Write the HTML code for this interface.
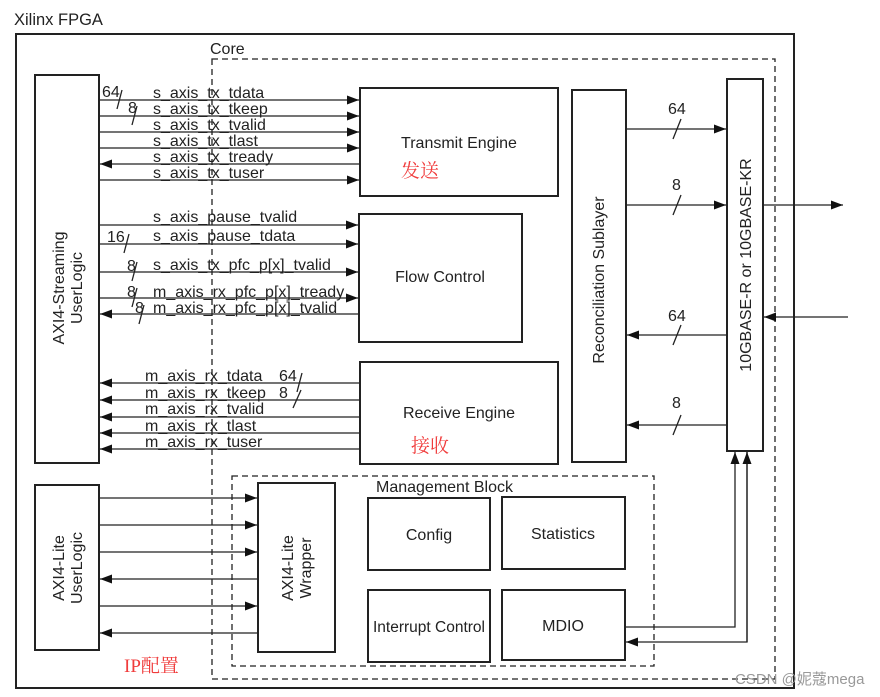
<!DOCTYPE html>
<html><head><meta charset="utf-8"><style>
body{margin:0;background:#fff}
svg{display:block}
text{font-family:"Liberation Sans",Arial,sans-serif;fill:#222}
.cn{font-family:"Liberation Serif","Noto Serif CJK SC","Noto Sans CJK SC",serif;fill:#f03c3c}
</style></head><body>
<svg width="880" height="697" viewBox="0 0 880 697" xmlns="http://www.w3.org/2000/svg">
<defs>
<marker id="a" viewBox="0 0 12 10" refX="12" refY="5" markerWidth="12" markerHeight="10" markerUnits="userSpaceOnUse" orient="auto"><path d="M0,0.5 L12,5 L0,9.5 z" fill="#111"/></marker>
</defs>
<g stroke="#222" fill="none">
<rect x="16" y="34" width="778" height="654" stroke-width="2"/>
<rect x="212" y="59" width="563" height="620" stroke-dasharray="6,4" stroke-width="1.3"/>
<rect x="232" y="476" width="422" height="190" stroke-dasharray="6,4" stroke-width="1.3"/>
<rect x="35" y="75" width="64" height="388" stroke-width="2"/>
<rect x="360" y="88" width="198" height="108" stroke-width="2"/>
<rect x="359" y="214" width="163" height="128" stroke-width="2"/>
<rect x="360" y="362" width="198" height="102" stroke-width="2"/>
<rect x="572" y="90" width="54" height="372" stroke-width="2"/>
<rect x="727" y="79" width="36" height="372" stroke-width="2"/>
<rect x="35" y="485" width="64" height="165" stroke-width="2"/>
<rect x="258" y="483" width="77" height="169" stroke-width="2"/>
<rect x="368" y="498" width="122" height="72" stroke-width="2"/>
<rect x="502" y="497" width="123" height="72" stroke-width="2"/>
<rect x="368" y="590" width="122" height="72" stroke-width="2"/>
<rect x="502" y="590" width="123" height="70" stroke-width="2"/>
</g>
<g stroke="#222" stroke-width="1.3" fill="none">
<line x1="99" y1="100" x2="359" y2="100" marker-end="url(#a)"/>
<line x1="99" y1="116" x2="359" y2="116" marker-end="url(#a)"/>
<line x1="99" y1="132" x2="359" y2="132" marker-end="url(#a)"/>
<line x1="99" y1="148" x2="359" y2="148" marker-end="url(#a)"/>
<line x1="360" y1="164" x2="100" y2="164" marker-end="url(#a)"/>
<line x1="99" y1="180" x2="359" y2="180" marker-end="url(#a)"/>
<line x1="99" y1="225" x2="358" y2="225" marker-end="url(#a)"/>
<line x1="99" y1="244" x2="358" y2="244" marker-end="url(#a)"/>
<line x1="99" y1="272" x2="358" y2="272" marker-end="url(#a)"/>
<line x1="99" y1="298" x2="358" y2="298" marker-end="url(#a)"/>
<line x1="359" y1="314" x2="100" y2="314" marker-end="url(#a)"/>
<line x1="360" y1="383" x2="100" y2="383" marker-end="url(#a)"/>
<line x1="360" y1="400" x2="100" y2="400" marker-end="url(#a)"/>
<line x1="360" y1="417" x2="100" y2="417" marker-end="url(#a)"/>
<line x1="360" y1="433" x2="100" y2="433" marker-end="url(#a)"/>
<line x1="360" y1="449" x2="100" y2="449" marker-end="url(#a)"/>
<line x1="122" y1="90" x2="117" y2="109"/>
<line x1="137" y1="106" x2="132" y2="125"/>
<line x1="129" y1="234" x2="124" y2="253"/>
<line x1="137" y1="262" x2="132" y2="281"/>
<line x1="137" y1="288" x2="132" y2="307"/>
<line x1="144" y1="305" x2="139" y2="324"/>
<line x1="302" y1="373" x2="297" y2="392"/>
<line x1="301" y1="390" x2="293" y2="408"/>
<line x1="626" y1="129" x2="726" y2="129" marker-end="url(#a)"/>
<line x1="626" y1="205" x2="726" y2="205" marker-end="url(#a)"/>
<line x1="727" y1="335" x2="627" y2="335" marker-end="url(#a)"/>
<line x1="727" y1="425" x2="627" y2="425" marker-end="url(#a)"/>
<line x1="681" y1="119" x2="673" y2="139"/>
<line x1="681" y1="195" x2="673" y2="215"/>
<line x1="681" y1="325" x2="673" y2="345"/>
<line x1="681" y1="415" x2="673" y2="435"/>
<line x1="763" y1="205" x2="843" y2="205" marker-end="url(#a)"/>
<line x1="848" y1="317" x2="764" y2="317" marker-end="url(#a)"/>
<polyline points="625,627 735,627 735,452" marker-end="url(#a)"/>
<polyline points="747,452 747,642 626,642" marker-end="url(#a)"/>
<line x1="747" y1="642" x2="747" y2="452" marker-end="url(#a)"/>
<line x1="99" y1="498" x2="257" y2="498" marker-end="url(#a)"/>
<line x1="99" y1="525" x2="257" y2="525" marker-end="url(#a)"/>
<line x1="99" y1="552" x2="257" y2="552" marker-end="url(#a)"/>
<line x1="258" y1="579" x2="100" y2="579" marker-end="url(#a)"/>
<line x1="99" y1="606" x2="257" y2="606" marker-end="url(#a)"/>
<line x1="258" y1="633" x2="100" y2="633" marker-end="url(#a)"/>
</g>
<g font-size="16">
<text x="14" y="25" font-size="16.5">Xilinx FPGA</text>
<text x="210" y="54">Core</text>
<text x="102" y="97">64</text>
<text x="128" y="113">8</text>
<text x="153" y="98">s_axis_tx_tdata</text>
<text x="153" y="114">s_axis_tx_tkeep</text>
<text x="153" y="130">s_axis_tx_tvalid</text>
<text x="153" y="146">s_axis_tx_tlast</text>
<text x="153" y="162">s_axis_tx_tready</text>
<text x="153" y="178">s_axis_tx_tuser</text>
<text x="153" y="222">s_axis_pause_tvalid</text>
<text x="107" y="242">16</text>
<text x="153" y="241">s_axis_pause_tdata</text>
<text x="127" y="271">8</text>
<text x="153" y="270">s_axis_tx_pfc_p[x]_tvalid</text>
<text x="127" y="297">8</text>
<text x="153" y="297">m_axis_rx_pfc_p[x]_tready</text>
<text x="135" y="313">8</text>
<text x="153" y="313">m_axis_rx_pfc_p[x]_tvalid</text>
<text x="145" y="381">m_axis_rx_tdata</text>
<text x="145" y="398">m_axis_rx_tkeep</text>
<text x="145" y="414">m_axis_rx_tvalid</text>
<text x="145" y="431">m_axis_rx_tlast</text>
<text x="145" y="447">m_axis_rx_tuser</text>
<text x="279" y="381">64</text>
<text x="279" y="398">8</text>
<text x="459" y="148" text-anchor="middle">Transmit Engine</text>
<text x="440" y="282" text-anchor="middle">Flow Control</text>
<text x="459" y="418" text-anchor="middle">Receive Engine</text>
<text x="376" y="492">Management Block</text>
<text x="429" y="540" text-anchor="middle">Config</text>
<text x="563" y="539" text-anchor="middle">Statistics</text>
<text x="429" y="632" text-anchor="middle" font-size="15.5">Interrupt Control</text>
<text x="563" y="631" text-anchor="middle">MDIO</text>
<text x="668" y="114">64</text>
<text x="672" y="190">8</text>
<text x="668" y="321">64</text>
<text x="672" y="408">8</text>
<text transform="translate(604,280) rotate(-90)" text-anchor="middle">Reconciliation Sublayer</text>
<text transform="translate(751,265) rotate(-90)" text-anchor="middle">10GBASE-R or 10GBASE-KR</text>
<text transform="translate(64,288) rotate(-90)" text-anchor="middle">AXI4-Streaming</text>
<text transform="translate(82,288) rotate(-90)" text-anchor="middle">UserLogic</text>
<text transform="translate(64,568) rotate(-90)" text-anchor="middle">AXI4-Lite</text>
<text transform="translate(82,568) rotate(-90)" text-anchor="middle">UserLogic</text>
<text transform="translate(293,568) rotate(-90)" text-anchor="middle">AXI4-Lite</text>
<text transform="translate(311,568) rotate(-90)" text-anchor="middle">Wrapper</text>
</g>
<text class="cn" x="401" y="177" font-size="19">发送</text>
<text class="cn" x="411" y="452" font-size="19">接收</text>
<text class="cn" x="124" y="672" font-size="19">IP配置</text>
<text x="735" y="684" font-size="15" style="fill:#999;font-family:'Liberation Sans','Noto Sans CJK SC',sans-serif">CSDN @妮蔻mega</text>
</svg>
</body></html>
